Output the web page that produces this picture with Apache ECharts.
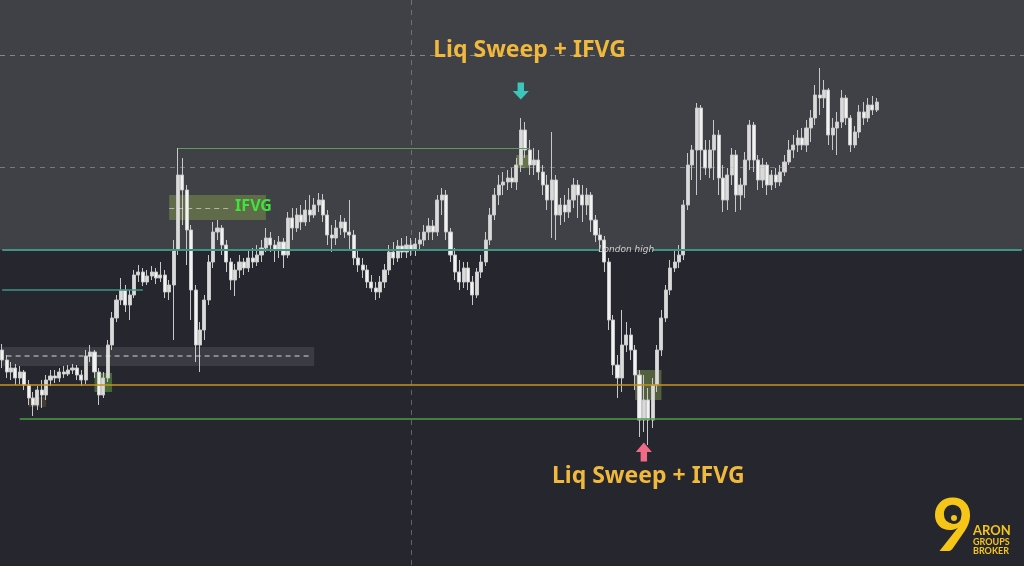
<!DOCTYPE html>
<html><head><meta charset="utf-8">
<script src="https://cdn.jsdelivr.net/npm/echarts@6/dist/echarts.min.js"></script>
<style>html,body{margin:0;padding:0;background:#25262e;}#c{width:1024px;height:566px;}</style>
</head><body><div id="c"></div>
<script>
// Price is expressed on a chart scale whose axis is inverted (larger value = lower on screen).
// Each candle: [open, close, extreme-top, extreme-bottom]
const candles = [
[350,360,344,368],[360,372,355,378],[372,368,362,380],[368,378,364,385],[378,372,366,384],
[372,385,370,390],[385,398,380,405],[398,405,392,416],[405,390,386,410],[390,395,380,408],
[395,380,375,400],[380,376,370,386],[376,378,370,383],[378,372,368,382],[372,374,366,378],
[374,370,365,376],[370,368,364,374],[368,375,365,380],[375,380,370,386],[380,356,350,384],
[356,352,345,362],[352,372,350,378],[372,395,368,405],[395,378,372,398],[378,345,340,382],
[345,318,312,350],[318,300,295,322],[300,290,278,305],[290,305,285,312],[305,295,290,320],
[295,275,270,298],[275,272,265,282],[272,282,268,286],[282,276,270,285],[276,272,266,280],
[272,278,268,284],[278,275,262,282],[275,292,270,298],[292,285,280,300],[285,250,240,340],
[250,175,148,255],[175,190,158,225],[190,230,185,265],[230,290,225,320],[290,345,285,362],
[345,330,322,372],[330,300,295,340],[300,262,255,305],[262,232,222,268],[232,228,220,240],
[228,245,225,255],[245,262,240,272],[262,280,258,290],[280,270,264,296],[270,262,255,278],
[262,268,258,275],[268,258,250,272],[258,262,248,268],[262,255,245,266],[255,248,240,262],
[248,238,228,252],[238,245,232,252],[245,250,240,262],[250,242,236,258],[242,255,238,268],
[255,218,212,258],[218,228,208,240],[228,215,208,232],[215,222,205,230],[222,210,200,226],
[210,215,195,222],[215,205,198,218],[205,200,193,212],[200,215,194,222],[215,235,210,245],
[235,238,225,252],[238,228,220,245],[228,222,215,235],[222,232,218,238],[232,235,200,250],
[235,258,230,265],[258,265,250,272],[265,270,258,278],[270,282,265,288],[282,288,275,292],
[288,292,282,300],[292,282,276,298],[282,270,264,288],[270,252,245,275],[252,258,242,265],
[258,246,240,262],[246,252,238,258],[252,245,236,258],[245,250,238,256],[250,244,238,256],
[244,240,232,250],[240,232,225,246],[232,226,218,240],[226,232,220,240],[232,200,195,236],
[200,195,188,215],[195,232,190,240],[232,255,228,262],[255,272,248,280],[272,282,260,290],
[282,268,262,288],[268,282,262,290],[282,295,276,305],[295,272,268,298],[272,262,255,278],
[262,240,232,266],[240,215,208,245],[215,195,188,220],[195,185,175,205],[185,182,172,195],
[182,178,170,190],[178,182,168,188],[182,165,158,190],[165,130,118,172],[130,150,122,158],
[150,165,140,175],[165,160,148,175],[160,172,150,180],[172,185,165,195],[185,200,175,210],
[200,180,132,238],[180,215,175,240],[215,205,198,225],[205,212,195,222],[212,200,188,218],
[200,185,178,208],[185,195,180,218],[195,205,185,222],[205,195,188,215],[195,220,192,232],
[220,235,215,242],[235,240,228,252],[240,262,236,272],[262,320,258,330],[320,365,315,375],
[365,378,355,398],[378,345,310,392],[345,335,322,352],[335,350,328,360],[350,375,345,390],
[375,420,370,437],[420,400,375,432],[400,420,388,445],[420,385,378,428],[385,350,345,392],
[350,318,310,356],[318,290,285,322],[290,268,260,295],[268,262,250,272],[262,255,245,268],
[255,205,200,260],[205,165,153,210],[165,150,145,180],[150,108,103,195],[108,150,105,180],
[150,168,140,175],[168,150,140,178],[150,135,120,180],[135,178,130,195],[178,200,165,212],
[200,175,168,210],[175,155,148,185],[155,195,150,212],[195,185,178,210],[185,160,152,198],
[160,125,120,170],[125,160,122,172],[160,180,155,190],[180,165,158,188],[165,185,162,195],
[185,175,170,190],[175,182,168,188],[182,172,165,186],[172,162,155,176],[162,150,140,165],
[150,145,135,158],[145,138,130,152],[138,145,128,150],[145,128,120,152],[128,118,110,142],
[118,95,85,125],[95,98,68,115],[98,90,80,108],[90,135,88,145],[135,128,118,150],
[128,122,112,155],[122,98,90,128],[98,118,95,125],[118,145,115,152],[145,132,126,148],
[132,112,105,138],[112,118,102,125],[118,105,98,122],[105,110,96,115],[110,102,98,112]
];
const slotCount = 233;
const categories = Array.from({length: slotCount}, (_, i) => String(i));

// Horizontal levels
const dashedLevels = [55, 167];
const londonHigh = 250;
const orangeLevel = 385;
const lowGreenLevel = 419;
const highGreenLevel = 148;
const tealShortLevel = 290;
const sessionSplitIndex = 93;

// Boxes [xStartIdx, yTop, xEndIdx, yBottom]
const greyBand = [0, 347, 71, 366];
const ifvgBox = [38, 195, 60, 220];
const peakBox = [117, 155, 120, 168];
const bottomBox = [144, 370, 150, 400];
const leftGreenBox = [21, 373, 25, 392];
const leftBrownBox = [6, 397, 10, 407];

const chart = echarts.init(document.getElementById('c'), null, {renderer: 'canvas'});
const seg = (x1, x2, y, style) => [{coord: [String(x1), y], lineStyle: style}, {coord: [String(x2), y]}];
const box = (b, color) => [{coord: [String(b[0]), b[1]], itemStyle: {color: color, borderWidth: 0}}, {coord: [String(b[2]), b[3]]}];

chart.setOption({
  animation: false,
  backgroundColor: '#25262e',
  grid: {left: 0, right: 0, top: 0, bottom: 0},
  xAxis: {type: 'category', data: categories, boundaryGap: true, show: false},
  yAxis: {type: 'value', min: 0, max: 566, inverse: true, show: false},
  series: [{
    type: 'candlestick',
    data: candles,
    barWidth: 3.6,
    itemStyle: {color: '#f2f2f2', color0: '#dadada', borderColor: '#c8c8c8', borderColor0: '#c8c8c8', borderWidth: 1},
    markArea: {
      silent: true,
      data: [
        [{yAxis: 0, itemStyle: {color: '#404146'}}, {yAxis: londonHigh}],
        box(greyBand, 'rgba(255,255,255,0.10)'),
        box(ifvgBox, 'rgba(150,180,80,0.38)'),
        box(peakBox, 'rgba(150,180,80,0.45)'),
        box(bottomBox, 'rgba(150,185,90,0.40)'),
        box(leftGreenBox, 'rgba(120,210,70,0.40)'),
        box(leftBrownBox, 'rgba(140,110,70,0.30)')
      ]
    },
    markLine: {
      silent: true,
      symbol: ['none', 'none'],
      label: {show: false},
      data: [
        {yAxis: dashedLevels[0], lineStyle: {color: 'rgba(190,190,190,0.55)', type: [5, 5], width: 1}},
        {yAxis: dashedLevels[1], lineStyle: {color: 'rgba(190,190,190,0.45)', type: [5, 5], width: 1}},
        {xAxis: String(sessionSplitIndex), lineStyle: {color: 'rgba(170,170,170,0.45)', type: [5, 5], width: 1}},
        seg(0, 136, londonHigh, {color: '#3f9484', type: 'solid', width: 2}),
        seg(148, 232, londonHigh, {color: '#3f9484', type: 'solid', width: 2}),
        seg(0, 32, tealShortLevel, {color: '#3f9484', type: 'solid', width: 1.5}),
        seg(40, 120, highGreenLevel, {color: '#5a9e58', type: 'solid', width: 1.2}),
        {yAxis: orangeLevel, lineStyle: {color: '#c8921f', type: 'solid', width: 1.5}},
        seg(4, 232, lowGreenLevel, {color: '#4f9e4a', type: 'solid', width: 1.5}),
        seg(1, 70, 356, {color: 'rgba(230,230,230,0.6)', type: [5, 4], width: 1.5}),
        seg(38, 52, 208, {color: 'rgba(230,230,230,0.6)', type: [5, 4], width: 1.2})
      ]
    },
    markPoint: {
      silent: true,
      label: {show: false},
      data: [
        {coord: ['118', 91], symbol: 'path://M3,0 L7,0 L7,5 L10,5 L5,10 L0,5 L3,5 Z', symbolSize: [16, 17], itemStyle: {color: '#3cc6bb'}},
        {coord: ['146', 452], symbol: 'path://M3,10 L7,10 L7,5 L10,5 L5,0 L0,5 L3,5 Z', symbolSize: [16, 19], itemStyle: {color: '#f06b86'}}
      ]
    }
  }]
});

const px = (i, y) => chart.convertToPixel({gridIndex: 0}, [i, y]);
const topTitle = px(120, 50);
const bottomTitle = px(147, 476);
const ifvgLabel = px(53, 206);
const londonLabel = px(142, 250);

chart.setOption({
  graphic: [
    {type: 'text', z: 100, x: topTitle[0], y: topTitle[1], style: {text: 'Liq Sweep + IFVG', fill: '#f0b93c', font: 'bold 23px "Noto Sans"', align: 'center', verticalAlign: 'middle'}},
    {type: 'text', z: 100, x: bottomTitle[0], y: bottomTitle[1], style: {text: 'Liq Sweep + IFVG', fill: '#f0b93c', font: 'bold 23px "Noto Sans"', align: 'center', verticalAlign: 'middle'}},
    {type: 'text', z: 100, x: ifvgLabel[0], y: ifvgLabel[1], style: {text: 'IFVG', fill: '#3ee43a', font: 'bold 16px "Noto Sans"', align: 'left', verticalAlign: 'middle'}},
    {type: 'text', z: 100, x: londonLabel[0], y: londonLabel[1], style: {text: 'London high', fill: '#d0d0d0', font: 'italic 9px "DejaVu Sans"', align: 'center', verticalAlign: 'middle'}},
    {type: 'text', z: 100, x: 953, y: 528, style: {text: '9', fill: '#f5c518', font: 'bold 72px Lato', align: 'center', verticalAlign: 'middle'}},
    {type: 'circle', z: 101, shape: {cx: 954, cy: 517, r: 7}, style: {fill: '#25262e'}},
    {type: 'circle', z: 102, shape: {cx: 954, cy: 518, r: 3}, style: {fill: '#f5c518'}},
    {type: 'text', z: 100, x: 973, y: 531, style: {text: 'ARON', fill: '#f5c518', font: 'bold 13px Lato', align: 'left', verticalAlign: 'middle'}},
    {type: 'text', z: 100, x: 973, y: 542, style: {text: 'GROUPS', fill: '#f5c518', font: 'bold 9px Lato', align: 'left', verticalAlign: 'middle'}},
    {type: 'text', z: 100, x: 973, y: 551, style: {text: 'BROKER', fill: '#f5c518', font: 'bold 9px Lato', align: 'left', verticalAlign: 'middle'}}
  ]
});
</script>
</body></html>
